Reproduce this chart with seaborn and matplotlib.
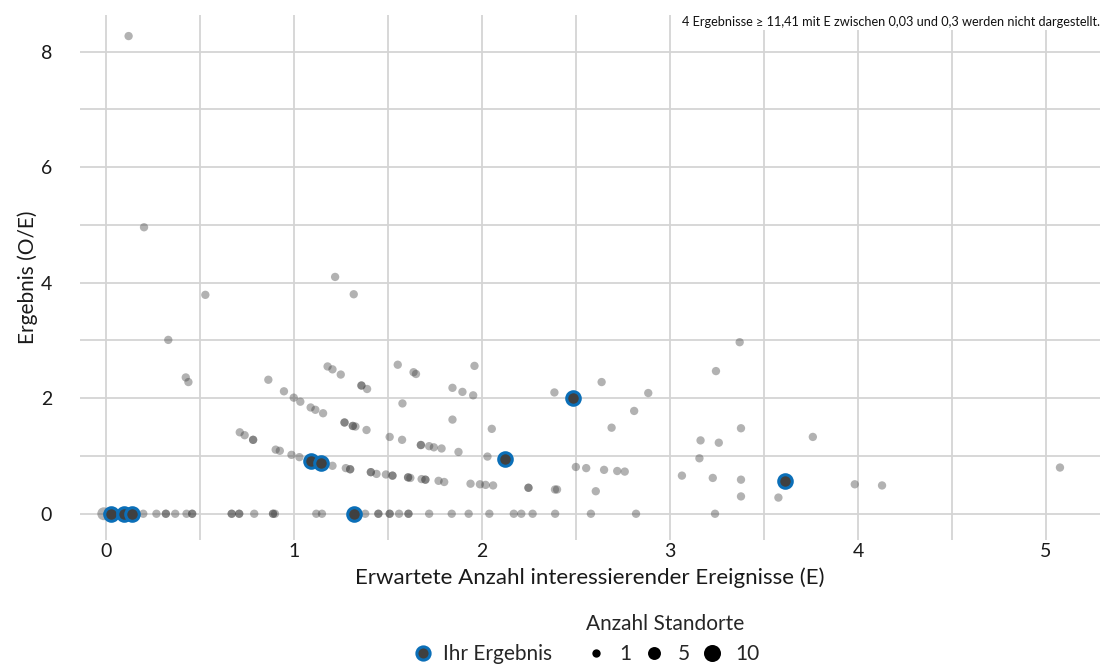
import numpy as np
import pandas as pd
import matplotlib
matplotlib.use("Agg")
import matplotlib.pyplot as plt
from matplotlib.lines import Line2D
from matplotlib.ticker import MultipleLocator
import seaborn as sns

# Alle Standorte (E, O/E, Anzahl Standorte)
e_zero = [-0.01, 0.01, 0.03, 0.06, 0.10, 0.14, 0.20, 0.27, 0.32, 0.32, 0.37, 0.43,
          0.46, 0.46, 0.67, 0.67, 0.71, 0.71, 0.79, 0.89, 0.89, 0.90, 1.12, 1.15,
          1.32, 1.38, 1.45, 1.45, 1.51, 1.51, 1.56, 1.61, 1.61, 1.72, 1.84, 1.93,
          2.04, 2.17, 2.21, 2.27, 2.39, 2.58, 2.82, 3.24]
n_zero = [5] + [1] * (len(e_zero) - 1)

e_pos = [0.122, 0.204, 0.53, 0.333, 0.426, 0.44, 1.22, 1.319,
         0.865, 0.948, 1.0, 1.035, 1.09, 1.115, 1.156, 1.27, 1.27, 1.314, 1.314,
         1.328, 1.387, 1.51, 1.576, 1.676, 1.676, 1.72, 1.745, 1.786, 1.876, 2.03,
         1.18, 1.206, 1.25, 1.36, 1.36, 1.39, 1.553, 1.637, 1.65, 1.844, 1.897,
         1.954, 1.961, 2.053, 1.578, 1.844, 2.386, 2.637, 2.885, 2.81, 2.69, 3.378,
         3.163, 3.26, 3.76, 3.157, 3.371, 3.245,
         0.713, 0.739, 0.784, 0.784, 0.904, 0.926, 0.988, 1.03, 1.206, 1.277, 1.30,
         1.30, 1.41, 1.41, 1.44, 1.49, 1.525, 1.525, 1.608, 1.608, 1.62, 1.68, 1.70,
         1.70, 1.77, 1.80, 1.94, 1.99, 2.02, 2.06, 2.248, 2.248, 2.389, 2.40, 2.606,
         3.378, 3.577,
         2.50, 2.555, 2.65, 2.72, 2.76, 3.064, 3.228, 3.378, 3.983, 4.128, 5.074]
oe_pos = [8.27, 4.96, 3.79, 3.01, 2.36, 2.28, 4.10, 3.80,
          2.32, 2.12, 2.01, 1.94, 1.84, 1.80, 1.74, 1.58, 1.58, 1.52, 1.52,
          1.51, 1.45, 1.33, 1.28, 1.19, 1.19, 1.17, 1.15, 1.13, 1.07, 0.99,
          2.55, 2.50, 2.41, 2.22, 2.22, 2.16, 2.58, 2.45, 2.42, 2.18, 2.11,
          2.05, 2.56, 1.47, 1.91, 1.63, 2.10, 2.28, 2.09, 1.78, 1.49, 1.48,
          1.27, 1.23, 1.33, 0.96, 2.97, 2.47,
          1.41, 1.36, 1.28, 1.28, 1.11, 1.09, 1.02, 0.98, 0.83, 0.79, 0.77,
          0.77, 0.72, 0.72, 0.69, 0.68, 0.66, 0.66, 0.63, 0.63, 0.62, 0.60, 0.59,
          0.59, 0.57, 0.55, 0.52, 0.51, 0.50, 0.49, 0.45, 0.45, 0.42, 0.42, 0.39,
          0.30, 0.28,
          0.81, 0.79, 0.76, 0.74, 0.73, 0.66, 0.62, 0.59, 0.51, 0.49, 0.80]

# Ihr Ergebnis
own_e = [0.03, 0.10, 0.14, 1.32, 1.094, 1.147, 2.124, 2.486, 3.613]
own_oe = [0.0, 0.0, 0.0, 0.0, 0.92, 0.88, 0.95, 2.01, 0.56]

x_ticks = [0, 1, 2, 3, 4, 5]
y_ticks = [0, 2, 4, 6, 8]
size_levels = [1, 5, 10]
note = "4 Ergebnisse \u2265 11,41 mit E zwischen 0,03 und 0,3 werden nicht dargestellt."

df = pd.DataFrame({
    "E": e_zero + e_pos,
    "OE": [0.0] * len(e_zero) + oe_pos,
    "n": n_zero + [1] * len(e_pos),
})
own = pd.DataFrame({"E": own_e, "OE": own_oe})

sns.set_theme(style="whitegrid")
plt.rcParams["font.family"] = ["Lato", "DejaVu Sans"]

grey = "#404040"
blue = "#0b6fb8"
txt = "#1a1a1a"
size_range = (36, 150)

fig = plt.figure(figsize=(11.07, 6.68), dpi=100)
ax = fig.add_axes([0.072, 0.192, 0.9217, 0.786])

sns.scatterplot(data=df, x="E", y="OE", size="n", sizes=size_range, size_norm=(1, 10),
                color=grey, alpha=0.4, linewidth=0, legend=False, ax=ax, zorder=3)
sns.scatterplot(data=own, x="E", y="OE", color=grey, edgecolor=blue, s=95,
                linewidth=2.2, legend=False, ax=ax, zorder=4)

ax.set_xlim(-0.138, 5.287)
ax.set_ylim(-0.45, 8.64)
ax.set_xticks(x_ticks)
ax.set_yticks(y_ticks)
ax.xaxis.set_minor_locator(MultipleLocator(0.5))
ax.yaxis.set_minor_locator(MultipleLocator(1))
ax.grid(which="both", color="#d4d4d4", linewidth=1.3)
ax.set_axisbelow(True)
for s in ax.spines.values():
    s.set_visible(False)
ax.tick_params(axis="both", which="both", length=0, labelsize=14, colors=txt)
ax.tick_params(axis="y", pad=20)
ax.tick_params(axis="x", pad=2)

ax.set_xlabel("Erwartete Anzahl interessierender Ereignisse (E)", fontsize=16,
              color=txt, labelpad=6)
ax.set_ylabel("Ergebnis (O/E)", fontsize=15, color=txt, labelpad=2)

ax.text(0.9995, 0.997, note, transform=ax.transAxes, ha="right", va="top",
        fontsize=9.2, color="#111111", zorder=5,
        bbox=dict(facecolor="white", edgecolor="none", pad=1.5))

# Legende: eigenes Ergebnis (ohne Titel) + Punktgroessen (mit Titel)
own_handle = [Line2D([], [], marker="o", linestyle="", markersize=9.5,
                     markerfacecolor=grey, markeredgecolor=blue, markeredgewidth=2.2)]
leg_own = fig.legend(own_handle, ["Ihr Ergebnis"], loc="lower right",
                     bbox_to_anchor=(0.5086, -0.010), frameon=False, fontsize=15,
                     handletextpad=0.5, handlelength=1.0, borderpad=0.0)

size_handles = []
for lvl in size_levels:
    s = size_range[0] + (lvl - 1) / 9 * (size_range[1] - size_range[0])
    size_handles.append(Line2D([], [], marker="o", linestyle="", markersize=np.sqrt(s),
                               markerfacecolor="black", markeredgewidth=0))
leg_size = fig.legend(size_handles, [str(v) for v in size_levels],
                      title="Anzahl Standorte", ncol=3, loc="lower left",
                      bbox_to_anchor=(0.520, -0.010), frameon=False, fontsize=15,
                      title_fontsize=15, handletextpad=0.6, columnspacing=0.6,
                      handlelength=1.0, borderpad=0.0, alignment="left")

fig.savefig("out.png", dpi=100)
